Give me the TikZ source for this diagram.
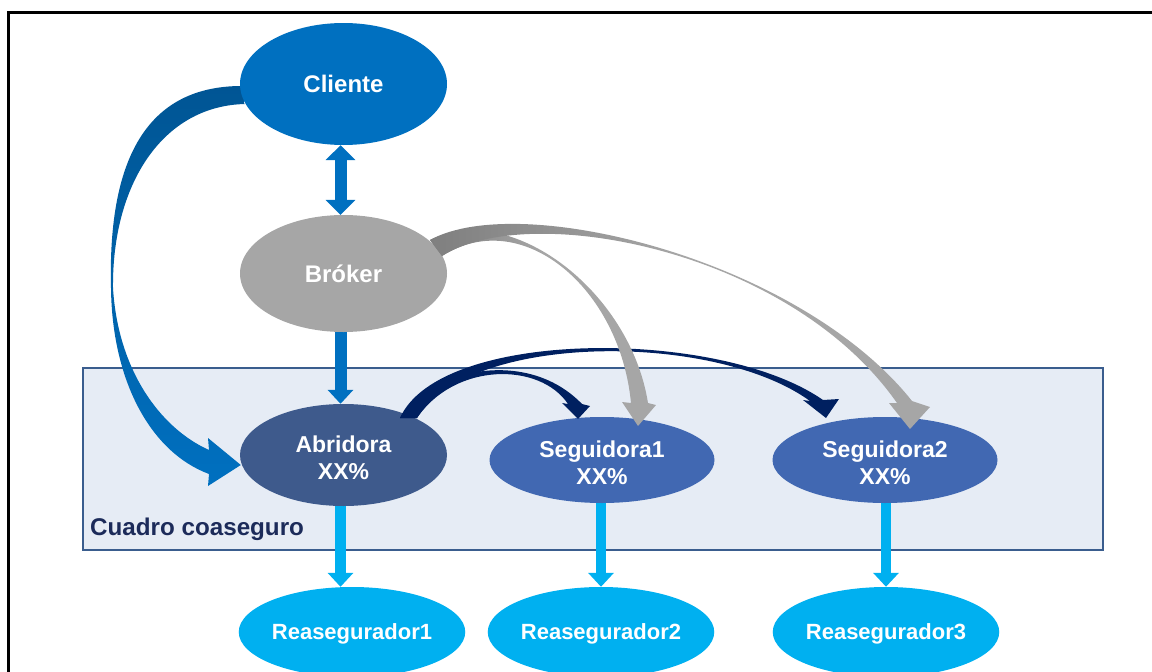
\documentclass[tikz,border=0pt]{standalone}
\usepackage{fontspec}
\setmainfont{Liberation Sans}
\usetikzlibrary{shapes.geometric,arrows.meta,calc}

\definecolor{cliblue}{HTML}{0070C0}
\definecolor{clidark}{HTML}{005594}
\definecolor{brogray}{HTML}{A6A6A6}
\definecolor{grayedge}{HTML}{7F7F7F}
\definecolor{abrblue}{HTML}{3E5A8C}
\definecolor{segblue}{HTML}{4168B2}
\definecolor{reacyan}{HTML}{00B0F0}
\definecolor{navy}{HTML}{002060}
\definecolor{boxfill}{HTML}{E6ECF5}
\definecolor{boxline}{HTML}{3A5D8E}
\definecolor{labelnavy}{HTML}{1C2B5A}

\pgfdeclarelayer{bg}
\pgfdeclarelayer{behind}
\pgfdeclarelayer{front}
\pgfsetlayers{bg,behind,main,front}

\begin{document}
\begin{tikzpicture}[x=1pt,y=-1pt,
  oval/.style={ellipse, draw=none, inner sep=0pt, text=white, align=center},
  bigtext/.style={font={\fontsize{24}{28}\selectfont\bfseries}, text depth=0pt},
  midtext/.style={font={\fontsize{23}{27}\selectfont\bfseries}, text height=48pt, text depth=0pt},
  smalltext/.style={font={\fontsize{22}{26}\selectfont\bfseries}, text depth=0pt},
  blueshaft/.style={draw=cliblue, line width=12pt},
  cyanshaft/.style={draw=reacyan, line width=10.5pt},
  bigtip/.style={-{Triangle[width=#1,length=14pt]}},
]
\useasboundingbox (0,0) rectangle (1152,672);
\clip (0,0) rectangle (1152,672);

% outer frame
\draw[line width=2.6pt, black] (8.7,700) -- (8.7,12.2) -- (1200,12.2);

% co-insurance panel
\begin{pgfonlayer}{bg}
  \node[draw=boxline, fill=boxfill, line width=2.5pt, minimum width=1020pt,
        minimum height=182pt, inner sep=0pt] (cuadro) at (593,459) {};
\end{pgfonlayer}
\node[anchor=base west, inner sep=0pt, text=labelnavy,
      font={\fontsize{24.2}{28}\selectfont\bfseries}] (lbl) at (90,535) {Cuadro coaseguro};

% parties
\node[oval, bigtext, fill=cliblue, minimum width=207pt, minimum height=122pt] (cli) at (343.5,84) {Cliente};
\node[oval, bigtext, fill=brogray, minimum width=207pt, minimum height=117pt] (bro) at (343.5,273.5) {Bróker};
\node[oval, midtext, fill=abrblue, minimum width=207pt, minimum height=102pt] (abr) at (343.5,455) {Abridora\\XX\%};
\node[oval, midtext, fill=segblue, minimum width=225pt, minimum height=86pt] (seg1) at (602,460) {Seguidora1\\XX\%};
\node[oval, midtext, fill=segblue, minimum width=225pt, minimum height=86pt] (seg2) at (885,460) {Seguidora2\\XX\%};
\node[oval, smalltext, fill=reacyan, minimum width=224pt, minimum height=90pt] (re1) at (352,632) {Reasegurador1};
\node[oval, smalltext, fill=reacyan, minimum width=224pt, minimum height=90pt] (re2) at (601,632) {Reasegurador2};
\node[oval, smalltext, fill=reacyan, minimum width=224pt, minimum height=90pt] (re3) at (886,632) {Reasegurador3};

% anchor points of the curved arrows
\coordinate (ca-so) at ($(cli.west)+(2,2)$);
\coordinate (ca-si) at ($(cli.west)+(5,20)$);
\coordinate (ca-tip) at ($(abr.west)+(1,10)$);
\coordinate (n-so) at ($(abr.center)+(56.5,-37)$);
\coordinate (n-si) at ($(abr.center)+(73.5,-37)$);
\coordinate (n1-tip) at ($(seg1.center)+(-24,-41)$);
\coordinate (n2-tip) at ($(seg2.center)+(-59,-42)$);
\coordinate (g-so) at ($(bro.center)+(86.5,-33.5)$);
\coordinate (g-si) at ($(bro.center)+(98.5,-17.5)$);
\coordinate (g1-tip) at ($(seg1.center)+(36,-34)$);
\coordinate (g2-tip) at ($(seg2.center)+(25,-31)$);

\begin{pgfonlayer}{behind}
  % Cliente -> Abridora, tapered curved arrow
  \shade[top color=clidark, bottom color=cliblue]
    (ca-so) .. controls (140,86) and (108,170) .. (111,288)
    .. controls (112,380) and (150,452) .. (209,474)
    -- (208,486) -- (ca-tip) -- (208,438) -- (209,450)
    .. controls (160,428) and (118,370) .. (113,288)
    .. controls (112,185) and (162,106) .. (ca-si) -- cycle;
  % straight connectors
  \draw[blueshaft, {Triangle[width=29pt,length=15pt]}-{Triangle[width=29pt,length=15pt]}]
    ([xshift=-3pt]cli.south) -- ([xshift=-3pt]bro.north);
  \draw[blueshaft, bigtip=25pt] ([xshift=-3pt]bro.south) -- ([xshift=-3pt]abr.north);
  \draw[cyanshaft, bigtip=25pt] ([xshift=-3pt]abr.south) -- ([xshift=-3pt]abr.south |- re1.north);
  \draw[cyanshaft, bigtip=25pt] ([xshift=-1pt]seg1.south) -- ([xshift=-1pt]seg1.south |- re2.north);
  \draw[cyanshaft, bigtip=25pt] (re3.north |- seg2.south) -- (re3.north);
\end{pgfonlayer}

\begin{pgfonlayer}{front}
  % Abridora -> Seguidora1
  \fill[navy] (n-so) .. controls (425,372) and (525,345) .. (582,404)
    -- (590,406) -- (n1-tip) -- (562,403) -- (568,404)
    .. controls (540,362) and (455,362) .. (n-si) -- cycle;
  % Abridora -> Seguidora2
  \fill[navy] (n-so) .. controls (440,328) and (720,328) .. (823,400)
    -- (839,399) -- (n2-tip) -- (803,400) -- (810,401)
    .. controls (715,332) and (470,332) .. (n-si) -- cycle;
  % Bróker -> Seguidora1
  \shade[left color=grayedge, right color=brogray, middle color=brogray]
    (g-so) .. controls (510,200) and (630,290) .. (648,403)
    -- (656,405) -- (g1-tip) -- (622,402) -- (631,403)
    .. controls (620,288) and (522,205) .. (g-si) -- cycle;
  % Bróker -> Seguidora2
  \shade[left color=grayedge, right color=brogray, middle color=brogray]
    (g-so) .. controls (520,190) and (800,260) .. (912,401)
    -- (930,407) -- (g2-tip) -- (889,403) -- (897,403)
    .. controls (790,250) and (530,200) .. (g-si) -- cycle;
\end{pgfonlayer}
\end{tikzpicture}
\end{document}
